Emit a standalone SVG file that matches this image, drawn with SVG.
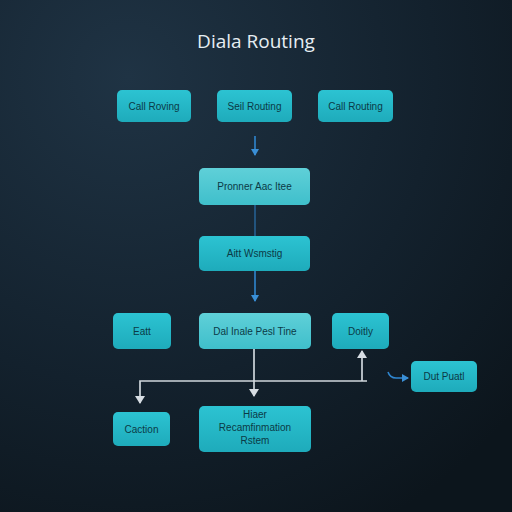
<svg xmlns="http://www.w3.org/2000/svg" width="512" height="512" viewBox="0 0 512 512">
<defs>
<radialGradient id="bg" cx="0.25" cy="0.15" r="1">
<stop offset="0" stop-color="#1f3344"/>
<stop offset="0.6" stop-color="#13212d"/>
<stop offset="1" stop-color="#0c151c"/>
</radialGradient>
<linearGradient id="box" x1="0" y1="0" x2="0" y2="1">
<stop offset="0" stop-color="#2cc3d2"/>
<stop offset="1" stop-color="#1eabbb"/>
</linearGradient>
<linearGradient id="boxl" x1="0" y1="0" x2="0" y2="1">
<stop offset="0" stop-color="#5fd0d8"/>
<stop offset="1" stop-color="#3fbfcb"/>
</linearGradient>
<marker id="ab" markerWidth="8" markerHeight="8" refX="6" refY="4" orient="auto" markerUnits="userSpaceOnUse">
<path d="M0,0 L7,4 L0,8 Z" fill="#3a8fd6"/>
</marker>
<marker id="aw" markerWidth="10" markerHeight="10" refX="7" refY="5" orient="auto" markerUnits="userSpaceOnUse">
<path d="M0,0 L8,5 L0,10 Z" fill="#d7dde3"/>
</marker>
</defs>
<style>
.n rect{fill:url(#box)}
.l rect{fill:url(#boxl)}
text{font-family:"Liberation Sans",Arial,sans-serif;font-size:10px;fill:#0b3a46;text-anchor:middle}
.t{font-family:"Open Sans","Liberation Sans",sans-serif;font-size:19px;fill:#e6eef3}
.bl{stroke:#2f86cf;stroke-width:1.6;fill:none}
.wl{stroke:#cfd6dc;stroke-width:1.7;fill:none}
</style>
<rect width="512" height="512" fill="url(#bg)"/>
<text class="t" x="256" y="48">Diala Routing</text>
<g id="n1" class="n"><rect x="117" y="90" width="74" height="32" rx="5"/><text x="154" y="110">Call Roving</text></g>
<g id="n2" class="n"><rect x="217" y="90" width="75" height="32" rx="5"/><text x="254.5" y="110">Seil Routing</text></g>
<g id="n3" class="n"><rect x="318" y="90" width="75" height="32" rx="5"/><text x="355.5" y="110">Call Routing</text></g>
<g id="n4" class="n l"><rect x="199" y="168" width="111" height="37" rx="5"/><text x="254.5" y="190">Pronner Aac Itee</text></g>
<g id="n5" class="n"><rect x="199" y="236" width="111" height="35" rx="5"/><text x="254.5" y="257">Aitt Wsmstig</text></g>
<g id="n6" class="n"><rect x="113" y="313" width="58" height="36" rx="5"/><text x="142" y="335">Eatt</text></g>
<g id="n7" class="n l"><rect x="199" y="313" width="112" height="36" rx="5"/><text x="255" y="335">Dal Inale Pesl Tine</text></g>
<g id="n8" class="n"><rect x="332" y="313" width="57" height="36" rx="5"/><text x="360.5" y="335">Doitly</text></g>
<g id="n9" class="n"><rect x="411" y="361" width="66" height="31" rx="5"/><text x="444" y="380">Dut Puatl</text></g>
<g id="n10" class="n"><rect x="113" y="412" width="57" height="34" rx="5"/><text x="141.5" y="433">Caction</text></g>
<g id="n11" class="n"><rect x="199" y="406" width="112" height="46" rx="5"/><text x="255" y="418">Hiaer</text><text x="255" y="431">Recamfinmation</text><text x="255" y="444">Rstem</text></g>
<g id="connectors">
<line class="bl" x1="255" y1="136" x2="255" y2="155" marker-end="url(#ab)"/>
<line class="bl" x1="255" y1="205" x2="255" y2="236" stroke-opacity="0.6"/>
<line class="bl" x1="255" y1="271" x2="255" y2="301" marker-end="url(#ab)"/>
<line class="wl" x1="254" y1="349" x2="254" y2="396" marker-end="url(#aw)"/>
<polyline class="wl" points="367,381 140,381 140,403" marker-end="url(#aw)"/>
<line class="wl" x1="362" y1="381" x2="362" y2="351" marker-end="url(#aw)"/>
<path class="bl" d="M388,372 Q390,378 396,378 L408,378" marker-end="url(#ab)"/>
</g>
</svg>
